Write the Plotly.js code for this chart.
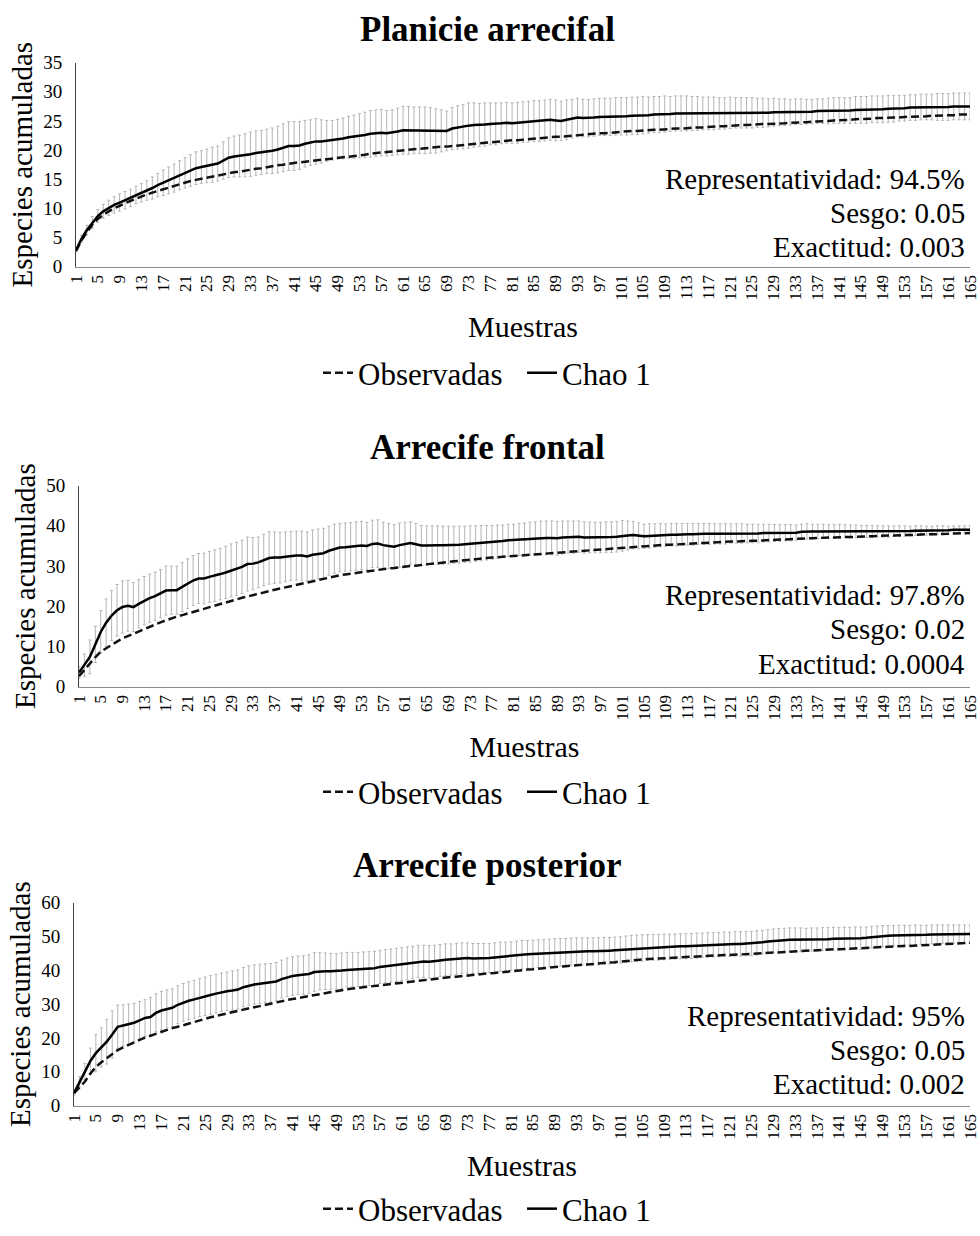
<!DOCTYPE html>
<html><head><meta charset="utf-8">
<script src="https://cdn.plot.ly/plotly-3.0.1.min.js"></script>
<style>html,body{margin:0;padding:0;background:#fff}#chart{width:980px;height:1236px}</style>
</head><body><div id="chart"></div>
<script>
// ---------- DATA ----------
const samples = [1,2,3,4,5,6,7,8,9,10,11,12,13,14,15,16,17,18,19,20,21,22,23,24,25,26,27,28,29,30,
31,32,33,34,35,36,37,38,39,40,41,42,43,44,45,46,47,48,49,50,51,52,53,54,55,56,57,58,59,60,
61,62,63,64,65,66,67,68,69,70,71,72,73,74,75,76,77,78,79,80,81,82,83,84,85,86,87,88,89,90,
91,92,93,94,95,96,97,98,99,100,101,102,103,104,105,106,107,108,109,110,111,112,113,114,115,116,117,118,119,120,
121,122,123,124,125,126,127,128,129,130,131,132,133,134,135,136,137,138,139,140,141,142,143,144,145,146,147,148,149,150,
151,152,153,154,155,156,157,158,159,160,161,162,163,164,165];

const xTickLabels = ["1","5","9","13","17","21","25","29","33","37","41","45","49","53","57","61","65","69","73","77","81","85","89","93","97","101","105","109","113","117","121","125","129","133","137","141","145","149","153","157","161","165"];

const panelTitles = ["Planicie arrecifal", "Arrecife frontal", "Arrecife posterior"];
const seriesNames = ["Observadas", "Chao 1"];
const statsText = [
  ["Representatividad: 94.5%", "Sesgo: 0.05", "Exactitud: 0.003"],
  ["Representatividad: 97.8%", "Sesgo: 0.02", "Exactitud: 0.0004"],
  ["Representatividad: 95%", "Sesgo: 0.05", "Exactitud: 0.002"]
];

// Planicie arrecifal
const obsPlanicie = [2.7,4.5,5.9,7.2,8.2,8.9,9.5,10.0,10.5,10.9,
11.3,11.7,12.0,12.4,12.7,13.0,13.3,13.6,13.9,14.2,
14.5,14.7,14.9,15.1,15.3,15.5,15.7,15.9,16.0,16.2,
16.3,16.5,16.6,16.8,16.9,17.1,17.2,17.4,17.5,17.7,
17.8,17.9,18.0,18.2,18.3,18.4,18.5,18.6,18.7,18.8,
18.9,19.0,19.1,19.2,19.4,19.5,19.6,19.7,19.8,19.9,
20.0,20.0,20.1,20.2,20.3,20.4,20.5,20.6,20.6,20.7,
20.8,20.9,21.0,21.1,21.2,21.2,21.3,21.4,21.5,21.6,
21.7,21.7,21.8,21.9,22.0,22.0,22.1,22.2,22.3,22.3,
22.4,22.5,22.6,22.6,22.7,22.8,22.9,22.9,23.0,23.1,
23.1,23.2,23.3,23.3,23.4,23.4,23.5,23.5,23.6,23.6,
23.7,23.7,23.8,23.8,23.9,23.9,24.0,24.0,24.1,24.1,
24.2,24.2,24.3,24.3,24.4,24.4,24.5,24.5,24.5,24.6,
24.6,24.7,24.7,24.8,24.8,24.9,24.9,25.0,25.0,25.1,
25.1,25.2,25.2,25.3,25.3,25.4,25.4,25.5,25.5,25.5,
25.6,25.6,25.7,25.7,25.8,25.8,25.8,25.9,25.9,26.0,
26.0,26.0,26.1,26.1,26.1];
const chaoPlanicie = [2.8,4.8,6.3,7.6,8.7,9.5,10.1,10.6,11.0,11.4,
11.8,12.3,12.7,13.1,13.5,14.0,14.4,14.8,15.2,15.7,
16.1,16.5,16.9,17.1,17.3,17.5,17.7,18.2,18.7,18.9,
19.0,19.1,19.3,19.5,19.6,19.8,19.9,20.1,20.4,20.7,
20.7,20.8,21.1,21.3,21.5,21.5,21.6,21.7,21.9,22.0,
22.2,22.3,22.5,22.6,22.8,22.9,23.0,22.9,23.0,23.2,
23.4,23.4,23.4,23.4,23.4,23.4,23.3,23.3,23.3,23.7,
23.9,24.0,24.2,24.3,24.3,24.4,24.5,24.5,24.6,24.7,
24.6,24.7,24.8,24.9,25.0,25.0,25.1,25.2,25.1,25.0,
25.2,25.4,25.6,25.5,25.5,25.6,25.7,25.7,25.7,25.8,
25.8,25.8,25.9,25.9,26.0,26.0,26.1,26.1,26.2,26.2,
26.3,26.3,26.3,26.3,26.3,26.3,26.3,26.3,26.3,26.3,
26.4,26.4,26.4,26.4,26.4,26.4,26.4,26.4,26.5,26.5,
26.5,26.5,26.6,26.6,26.6,26.6,26.7,26.7,26.7,26.8,
26.8,26.8,26.8,26.9,26.9,26.9,27.0,27.0,27.0,27.1,
27.1,27.2,27.2,27.3,27.3,27.4,27.4,27.4,27.4,27.4,
27.4,27.5,27.5,27.5,27.5];
const sdPlanicie = [0.3,0.6,0.8,1.0,1.1,1.2,1.3,1.4,1.5,1.5,
1.5,1.5,1.6,1.7,1.9,2.0,2.2,2.3,2.4,2.5,
2.6,2.7,2.8,2.8,2.9,3.0,3.0,3.2,3.4,3.5,
3.6,3.7,3.8,3.8,3.8,3.8,3.9,4.0,4.1,4.2,
4.2,4.1,4.0,3.9,3.9,3.7,3.5,3.4,3.4,3.5,
3.6,3.7,3.8,3.9,4.0,4.0,4.0,3.9,3.9,4.0,
4.1,4.1,4.0,4.0,4.0,3.9,3.8,3.6,3.4,3.6,
3.7,3.8,3.9,3.8,3.7,3.7,3.6,3.6,3.5,3.5,
3.5,3.5,3.5,3.5,3.5,3.5,3.5,3.5,3.5,3.4,
3.4,3.3,3.3,3.2,3.2,3.2,3.2,3.2,3.2,3.2,
3.2,3.2,3.2,3.2,3.2,3.1,3.1,3.1,3.1,3.0,
3.0,3.0,3.0,2.9,2.9,2.8,2.8,2.8,2.7,2.7,
2.7,2.6,2.6,2.6,2.6,2.5,2.5,2.4,2.4,2.3,
2.3,2.2,2.2,2.2,2.1,2.1,2.1,2.1,2.2,2.2,
2.2,2.2,2.2,2.3,2.3,2.3,2.3,2.3,2.3,2.3,
2.3,2.2,2.2,2.2,2.2,2.2,2.2,2.2,2.3,2.3,
2.3,2.3,2.3,2.3,2.3];

// Arrecife frontal
const obsFrontal = [2.6,4.2,5.8,7.3,8.7,9.6,10.4,11.2,12.0,12.6,
13.2,13.8,14.4,15.0,15.5,16.0,16.5,17.0,17.4,17.8,
18.2,18.6,19.0,19.3,19.7,20.1,20.5,20.9,21.3,21.7,
22.1,22.4,22.8,23.1,23.4,23.8,24.1,24.4,24.7,25.0,
25.3,25.6,25.9,26.3,26.6,26.9,27.2,27.5,27.7,27.9,
28.1,28.3,28.5,28.7,28.9,29.0,29.2,29.4,29.5,29.7,
29.8,30.0,30.1,30.3,30.4,30.6,30.7,30.9,31.0,31.2,
31.3,31.5,31.6,31.7,31.9,32.0,32.1,32.2,32.4,32.5,
32.6,32.7,32.8,32.9,33.0,33.1,33.2,33.3,33.4,33.5,
33.6,33.7,33.8,33.9,34.0,34.1,34.2,34.3,34.4,34.5,
34.6,34.7,34.7,34.8,34.9,35.0,35.1,35.2,35.3,35.3,
35.4,35.5,35.6,35.6,35.7,35.7,35.8,35.9,35.9,36.0,
36.1,36.1,36.2,36.2,36.3,36.3,36.4,36.4,36.5,36.6,
36.6,36.7,36.8,36.8,36.9,36.9,37.0,37.0,37.1,37.1,
37.2,37.2,37.2,37.3,37.3,37.4,37.4,37.5,37.5,37.6,
37.6,37.7,37.7,37.7,37.8,37.8,37.9,37.9,37.9,38.0,
38.0,38.1,38.1,38.2,38.2];
const chaoFrontal = [3.5,5.3,7.4,10.5,13.6,15.9,17.7,19.0,19.8,20.1,
19.8,20.6,21.4,22.0,22.5,23.1,23.9,24.0,24.0,24.8,
25.6,26.4,26.9,26.9,27.3,27.6,28.0,28.4,28.9,29.3,
29.8,30.5,30.6,30.9,31.5,32.0,32.1,32.1,32.3,32.5,
32.6,32.6,32.4,32.8,33.0,33.2,33.8,34.3,34.6,34.7,
34.8,35.0,35.1,35.0,35.5,35.6,35.2,35.0,34.8,35.2,
35.5,35.7,35.4,35.1,35.1,35.2,35.2,35.2,35.2,35.3,
35.3,35.4,35.5,35.6,35.7,35.8,35.9,36.1,36.2,36.4,
36.5,36.6,36.7,36.8,36.9,37.0,37.0,37.0,36.9,37.1,
37.2,37.2,37.3,37.1,37.1,37.1,37.1,37.2,37.2,37.3,
37.5,37.6,37.7,37.5,37.4,37.5,37.6,37.7,37.7,37.8,
37.8,37.9,37.9,37.9,38.0,38.0,38.0,38.0,38.0,38.0,
38.1,38.1,38.1,38.1,38.1,38.1,38.2,38.2,38.2,38.2,
38.3,38.3,38.3,38.5,38.6,38.6,38.6,38.6,38.6,38.6,
38.7,38.7,38.6,38.6,38.6,38.6,38.6,38.6,38.6,38.6,
38.7,38.7,38.7,38.7,38.8,38.8,38.8,38.8,38.9,38.9,
38.9,39.0,39.0,39.0,39.0];
const sdFrontal = [1.5,2.8,4.2,4.5,5.3,5.9,6.2,6.4,6.5,6.3,
6.1,6.0,6.0,6.0,6.0,6.0,6.1,6.0,6.0,6.1,
6.2,6.2,6.2,6.3,6.3,6.4,6.4,6.5,6.6,6.6,
6.6,6.7,6.5,6.3,6.4,6.5,6.4,6.3,6.2,6.1,
6.1,6.1,6.1,6.2,6.2,6.2,6.1,6.1,6.0,6.0,
6.0,6.0,6.0,5.9,5.9,5.9,5.7,5.6,5.5,5.5,
5.4,5.3,5.2,5.0,4.9,4.8,4.8,4.7,4.7,4.6,
4.6,4.5,4.5,4.4,4.4,4.3,4.2,4.1,4.0,4.0,
3.9,4.0,4.0,4.1,4.1,4.2,4.2,4.2,4.2,4.1,
4.0,4.0,3.9,3.9,3.8,3.8,3.8,3.8,3.8,3.8,
3.8,3.6,3.4,3.2,3.0,3.0,2.9,2.9,2.8,2.8,
2.8,2.7,2.7,2.7,2.6,2.6,2.6,2.5,2.5,2.5,
2.4,2.4,2.4,2.3,2.3,2.3,2.2,2.2,2.1,2.1,
2.0,2.0,1.9,1.9,1.9,1.8,1.8,1.8,1.7,1.7,
1.7,1.6,1.6,1.6,1.5,1.5,1.5,1.4,1.4,1.4,
1.3,1.3,1.3,1.2,1.2,1.2,1.1,1.1,1.1,1.1,
1.0,1.0,1.0,1.0,1.0];

// Arrecife posterior
const obsPosterior = [3.7,5.3,7.1,9.5,11.4,12.8,14.0,15.3,16.4,17.2,
18.0,18.7,19.4,20.1,20.7,21.3,21.9,22.4,22.9,23.3,
23.8,24.3,24.8,25.3,25.7,26.1,26.5,26.9,27.3,27.6,
28.0,28.3,28.7,29.1,29.4,29.8,30.1,30.5,30.8,31.2,
31.5,31.8,32.1,32.4,32.8,33.1,33.4,33.7,34.0,34.2,
34.4,34.6,34.8,35.0,35.2,35.4,35.6,35.8,36.0,36.2,
36.4,36.6,36.7,36.9,37.1,37.3,37.5,37.6,37.8,38.0,
38.1,38.3,38.5,38.6,38.8,38.9,39.1,39.2,39.4,39.5,
39.7,39.8,40.0,40.2,40.3,40.5,40.7,40.8,41.0,41.1,
41.2,41.4,41.5,41.6,41.7,41.9,42.0,42.1,42.3,42.4,
42.6,42.7,42.9,43.0,43.2,43.3,43.4,43.4,43.5,43.6,
43.7,43.8,43.9,44.0,44.0,44.1,44.2,44.3,44.4,44.5,
44.5,44.6,44.7,44.8,44.9,45.0,45.1,45.1,45.2,45.3,
45.4,45.5,45.6,45.7,45.8,45.8,45.9,46.0,46.1,46.2,
46.2,46.3,46.4,46.5,46.6,46.7,46.7,46.8,46.9,47.0,
47.0,47.1,47.2,47.2,47.3,47.4,47.5,47.5,47.6,47.7,
47.8,47.8,47.9,48.0,48.1];
const chaoPosterior = [3.7,7.0,10.1,13.2,15.5,17.2,18.9,21.0,23.3,23.7,
24.0,24.5,25.2,25.9,26.2,27.4,28.1,28.6,28.9,29.8,
30.5,31.0,31.4,31.9,32.3,32.7,33.1,33.5,33.8,34.0,
34.3,35.0,35.5,35.8,36.0,36.2,36.3,36.7,37.4,37.9,
38.3,38.5,38.6,38.9,39.5,39.7,39.7,39.7,39.7,39.9,
40.1,40.2,40.2,40.4,40.5,40.6,41.0,41.2,41.4,41.6,
41.8,42.0,42.3,42.6,42.6,42.5,42.6,42.9,43.1,43.2,
43.4,43.6,43.6,43.5,43.5,43.5,43.6,43.8,44.0,44.1,
44.2,44.4,44.6,44.7,44.8,44.9,45.0,45.1,45.2,45.3,
45.4,45.5,45.6,45.6,45.6,45.6,45.6,45.7,45.8,45.9,
46.0,46.2,46.4,46.5,46.6,46.7,46.8,46.8,46.9,47.0,
47.0,47.1,47.1,47.2,47.3,47.4,47.5,47.5,47.6,47.7,
47.7,47.8,47.8,47.9,47.9,48.1,48.3,48.5,48.7,48.8,
48.9,49.0,49.0,49.0,49.0,49.1,49.1,49.2,49.2,49.3,
49.3,49.4,49.4,49.5,49.5,49.6,49.8,50.0,50.1,50.2,
50.3,50.3,50.4,50.4,50.5,50.5,50.5,50.6,50.6,50.7,
50.7,50.7,50.7,50.7,50.7];
const sdPosterior = [0.6,1.5,2.4,3.8,5.5,5.8,6.6,7.0,6.4,6.1,
6.0,5.7,5.6,5.4,5.8,5.6,5.7,5.6,5.6,5.6,
5.6,5.6,5.6,5.6,5.7,5.7,5.7,5.7,5.7,5.8,
5.8,5.8,5.8,5.8,5.8,5.7,5.7,5.6,5.6,5.7,
5.7,5.7,5.7,5.7,5.7,5.5,5.4,5.3,5.2,5.2,
5.1,5.1,5.0,5.0,5.0,5.0,4.9,4.9,4.9,4.9,
4.9,4.9,4.8,4.8,4.8,4.8,4.8,4.7,4.7,4.6,
4.6,4.5,4.5,4.4,4.4,4.4,4.3,4.3,4.3,4.2,
4.2,4.2,4.2,4.1,4.1,4.1,4.1,4.1,4.1,4.1,
4.0,4.0,4.0,4.0,4.0,4.0,4.0,4.0,3.9,3.9,
3.9,3.9,3.9,3.9,3.9,3.8,3.8,3.8,3.8,3.7,
3.7,3.7,3.7,3.7,3.7,3.6,3.6,3.6,3.6,3.6,
3.6,3.6,3.6,3.6,3.6,3.6,3.5,3.5,3.5,3.5,
3.5,3.5,3.5,3.5,3.4,3.4,3.4,3.4,3.4,3.4,
3.3,3.3,3.3,3.3,3.3,3.2,3.2,3.1,3.1,3.0,
3.0,3.0,2.9,2.9,2.9,2.8,2.8,2.8,2.8,2.7,
2.7,2.7,2.7,2.7,2.7];

const yMax = [35, 50, 60];
const yStep = [5, 10, 10];

// ---------- LAYOUT HELPERS ----------
const W = 980, H = 1236;
const FONT = 'Liberation Serif, "Times New Roman", Times, serif';
const px = x => x / W;
const py = y => 1 - y / H;

const panels = [
  {obs: obsPlanicie, chao: chaoPlanicie, sd: sdPlanicie, left: 76, top: 63, bottom: 268, titleY: 30, statsY: [180, 214, 248], legY: 375},
  {obs: obsFrontal, chao: chaoFrontal, sd: sdFrontal, left: 79, top: 488, bottom: 690, titleY: 450, statsY: [598, 632, 667], legY: 796},
  {obs: obsPosterior, chao: chaoPosterior, sd: sdPosterior, left: 74, top: 907, bottom: 1111, titleY: 870, statsY: [1021, 1055, 1089], legY: 1215}
];
panels.forEach(p => { [p.obs, p.chao, p.sd].forEach(a => { if (a.length !== samples.length) throw new Error('length ' + a.length); }); });

const traces = [];
const layout = {
  width: W, height: H,
  margin: {l: 0, r: 0, t: 0, b: 0},
  paper_bgcolor: '#ffffff', plot_bgcolor: '#ffffff',
  font: {family: FONT, color: '#000'},
  showlegend: true,
  annotations: []
};

panels.forEach((p, i) => {
  const k = i + 1;
  const xa = 'x' + (k === 1 ? '' : k), ya = 'y' + (k === 1 ? '' : k);
  const legName = 'legend' + (k === 1 ? '' : k);
  traces.push({
    x: samples, y: p.chao, xaxis: xa, yaxis: ya, type: 'scatter', mode: 'markers',
    marker: {size: 2, color: 'rgba(0,0,0,0)'}, showlegend: false, hoverinfo: 'skip', cliponaxis: false,
    error_y: {type: 'data', array: p.sd, symmetric: true, color: '#b5b5b5', thickness: 1, width: 1.5}
  });
  traces.push({
    x: samples, y: p.obs, xaxis: xa, yaxis: ya, type: 'scatter', mode: 'lines', name: seriesNames[0],
    legend: legName, line: {color: '#111', width: 2.5, dash: '8px,4px'}
  });
  traces.push({
    x: samples, y: p.chao, xaxis: xa, yaxis: ya, type: 'scatter', mode: 'lines', name: seriesNames[1],
    legend: legName, line: {color: '#000', width: 2.5}
  });

  layout['xaxis' + (k === 1 ? '' : k)] = {
    domain: [px(p.left), px(970)], anchor: ya, range: [1, 165], type: 'linear',
    tickmode: 'array', tickvals: xTickLabels.map(Number), ticktext: xTickLabels, tickangle: -90,
    tickfont: {family: FONT, size: 17, color: '#000'}, ticks: '',
    showline: true, linecolor: '#8c8c8c', linewidth: 1.5, showgrid: false, zeroline: false,
    title: {text: 'Muestras', font: {family: FONT, size: 30, color: '#000'}, standoff: 16}
  };
  layout['yaxis' + (k === 1 ? '' : k)] = {
    domain: [py(p.bottom), py(p.top)], anchor: xa, range: [0, yMax[i]], dtick: yStep[i],
    tickfont: {family: FONT, size: 19, color: '#000'}, ticks: '', ticklabelstandoff: 9,
    showline: true, linecolor: '#404040', linewidth: 1, showgrid: false, zeroline: false,
    title: {text: 'Especies acumuladas', font: {family: FONT, size: 29, color: '#000'}, standoff: 2}
  };
  layout[legName] = {
    orientation: 'h', x: px(318), xanchor: 'left', y: py(p.legY), yanchor: 'middle',
    entrywidth: 159, entrywidthmode: 'pixels',
    font: {family: FONT, size: 31, color: '#000'}, bgcolor: 'rgba(0,0,0,0)', traceorder: 'normal'
  };
  layout.annotations.push({
    text: '<b>' + panelTitles[i] + '</b>', xref: 'paper', yref: 'paper', x: px(487), y: py(p.titleY),
    xanchor: 'center', yanchor: 'middle', showarrow: false, font: {family: FONT, size: 35, color: '#000'}
  });
  statsText[i].forEach((t, j) => {
    layout.annotations.push({
      text: t, xref: 'paper', yref: 'paper', x: px(967), y: py(p.statsY[j]),
      xanchor: 'right', yanchor: 'middle', showarrow: false, font: {family: FONT, size: 29, color: '#000'}
    });
  });
});

Plotly.newPlot('chart', traces, layout, {staticPlot: true, displayModeBar: false});
</script>
</body></html>
